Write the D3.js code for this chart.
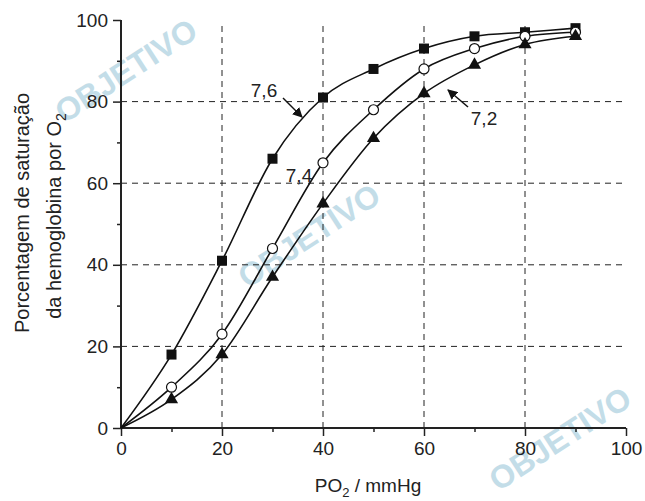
<!DOCTYPE html>
<html lang="pt">
<head>
<meta charset="utf-8">
<title>Saturação da hemoglobina</title>
<script src="https://cdn.jsdelivr.net/npm/d3@7"></script>
<style>
  body { margin: 0; background: #fff; }
  svg { font-family: "Liberation Sans", Arial, sans-serif; }
</style>
</head>
<body>
<svg width="645" height="501"></svg>
<script>
// data
var po2 = [0, 10, 20, 30, 40, 50, 60, 70, 80, 90];
var ph76 = [0, 18, 41, 66, 81, 88, 93, 96, 97, 98];
var ph74 = [0, 10, 23, 44, 65, 78, 88, 93, 96, 97];
var ph72 = [0, 7, 18, 37, 55, 71, 82, 89, 94, 96];
var ticks = [0, 20, 40, 60, 80, 100];
var minorTicks = [10, 30, 50, 70, 90];

var svg = d3.select("svg");
var x = d3.scaleLinear().domain([0, 100]).range([121, 626]);
var y = d3.scaleLinear().domain([0, 100]).range([428, 20]);
var fs = "19px";

// watermarks
var wm = [{x: 132, y: 80}, {x: 315, y: 245}, {x: 566, y: 448}];
svg.selectAll(".wm").data(wm).enter().append("text")
  .attr("transform", d => `translate(${d.x},${d.y}) rotate(-33)`)
  .attr("text-anchor", "middle")
  .style("font-size", "32px").style("font-weight", "bold")
  .style("fill", "#c3dde8")
  .text("OBJETIVO");

// grid
var grid = svg.append("g").attr("stroke", "#222").attr("stroke-width", 1).attr("stroke-dasharray", "6,5");
grid.selectAll(".h").data([20, 40, 60, 80]).enter().append("line")
  .attr("x1", x(0)).attr("x2", x(100)).attr("y1", d => y(d)).attr("y2", d => y(d));
grid.selectAll(".v").data([20, 40, 60, 80]).enter().append("line")
  .attr("y1", y(0)).attr("y2", y(99)).attr("x1", d => x(d)).attr("x2", d => x(d));

// axes
var xAxis = svg.append("g").attr("transform", `translate(0,${y(0)})`)
  .call(d3.axisBottom(x).tickValues(ticks).tickSize(8).tickPadding(6).tickFormat(d3.format("d")));
svg.append("g").attr("transform", `translate(0,${y(0)})`)
  .call(d3.axisBottom(x).tickValues(minorTicks).tickSize(4).tickFormat(""))
  .select(".domain").remove();
var yAxis = svg.append("g").attr("transform", `translate(${x(0)},0)`)
  .call(d3.axisLeft(y).tickValues(ticks).tickSize(8).tickPadding(5).tickFormat(d3.format("d")));
svg.append("g").attr("transform", `translate(${x(0)},0)`)
  .call(d3.axisLeft(y).tickValues(minorTicks).tickSize(4).tickFormat(""))
  .select(".domain").remove();
xAxis.select(".domain").attr("d", `M${x(0)},0H${x(100)}`);
yAxis.select(".domain").attr("d", `M0,${y(0)}V${y(100)}`);
svg.selectAll(".domain").attr("stroke", "#222").attr("stroke-width", 2);
svg.selectAll(".tick line").attr("stroke", "#222").attr("stroke-width", 1.5);
svg.selectAll(".tick text").style("font-size", fs).attr("fill", "#222");

// curves
var line = d3.line().x((d, i) => x(po2[i])).y(d => y(d)).curve(d3.curveMonotoneX);
[ph76, ph74, ph72].forEach(function(s) {
  svg.append("path").attr("d", line(s)).attr("fill", "none").attr("stroke", "#111").attr("stroke-width", 1.6);
});

var pts = s => s.map((v, i) => ({px: po2[i], v: v})).filter(d => d.px > 0);
svg.selectAll(".sq").data(pts(ph76)).enter().append("rect")
  .attr("x", d => x(d.px) - 5).attr("y", d => y(d.v) - 5).attr("width", 10).attr("height", 10).attr("fill", "#111");
svg.selectAll(".ci").data(pts(ph74)).enter().append("circle")
  .attr("cx", d => x(d.px)).attr("cy", d => y(d.v)).attr("r", 5)
  .attr("fill", "#fff").attr("stroke", "#111").attr("stroke-width", 1.2);
svg.selectAll(".tr").data(pts(ph72)).enter().append("path")
  .attr("transform", d => `translate(${x(d.px)},${y(d.v)})`)
  .attr("d", d3.symbol(d3.symbolTriangle, 75)).attr("fill", "#111");

// curve labels and arrows
svg.append("defs").append("marker").attr("id", "ar").attr("viewBox", "0 0 10 10")
  .attr("refX", 9).attr("refY", 5).attr("markerWidth", 10).attr("markerHeight", 10)
  .attr("markerUnits", "userSpaceOnUse").attr("orient", "auto")
  .append("path").attr("d", "M0,0L10,5L0,10z").attr("fill", "#111");
var labels = [
  {t: "7,6", x: 264, y: 97, a: [283, 98, 302, 117]},
  {t: "7,4", x: 299, y: 182, a: null},
  {t: "7,2", x: 484, y: 125, a: [468, 107, 448, 90]}
];
labels.forEach(function(l) {
  svg.append("text").attr("x", l.x).attr("y", l.y).attr("text-anchor", "middle")
    .style("font-size", fs).attr("fill", "#222").text(l.t);
  if (l.a) svg.append("line").attr("x1", l.a[0]).attr("y1", l.a[1]).attr("x2", l.a[2]).attr("y2", l.a[3])
    .attr("stroke", "#111").attr("stroke-width", 1.5).attr("marker-end", "url(#ar)");
});

// axis titles
var xt = svg.append("text").attr("x", 368).attr("y", 492).attr("text-anchor", "middle")
  .style("font-size", fs).attr("fill", "#222");
xt.append("tspan").text("PO");
xt.append("tspan").attr("dy", 5).style("font-size", "13px").text("2");
xt.append("tspan").attr("dy", -5).text(" / mmHg");

svg.append("text").attr("transform", "translate(29,213) rotate(-90)")
  .attr("text-anchor", "middle").style("font-size", "20px").attr("fill", "#222")
  .text("Porcentagem de saturação");
var yt2 = svg.append("text").attr("transform", "translate(61,216) rotate(-90)")
  .attr("text-anchor", "middle").style("font-size", "20px").attr("fill", "#222");
yt2.append("tspan").text("da hemoglobina por O");
yt2.append("tspan").attr("dy", 5).style("font-size", "14px").text("2");
</script>
</body>
</html>
